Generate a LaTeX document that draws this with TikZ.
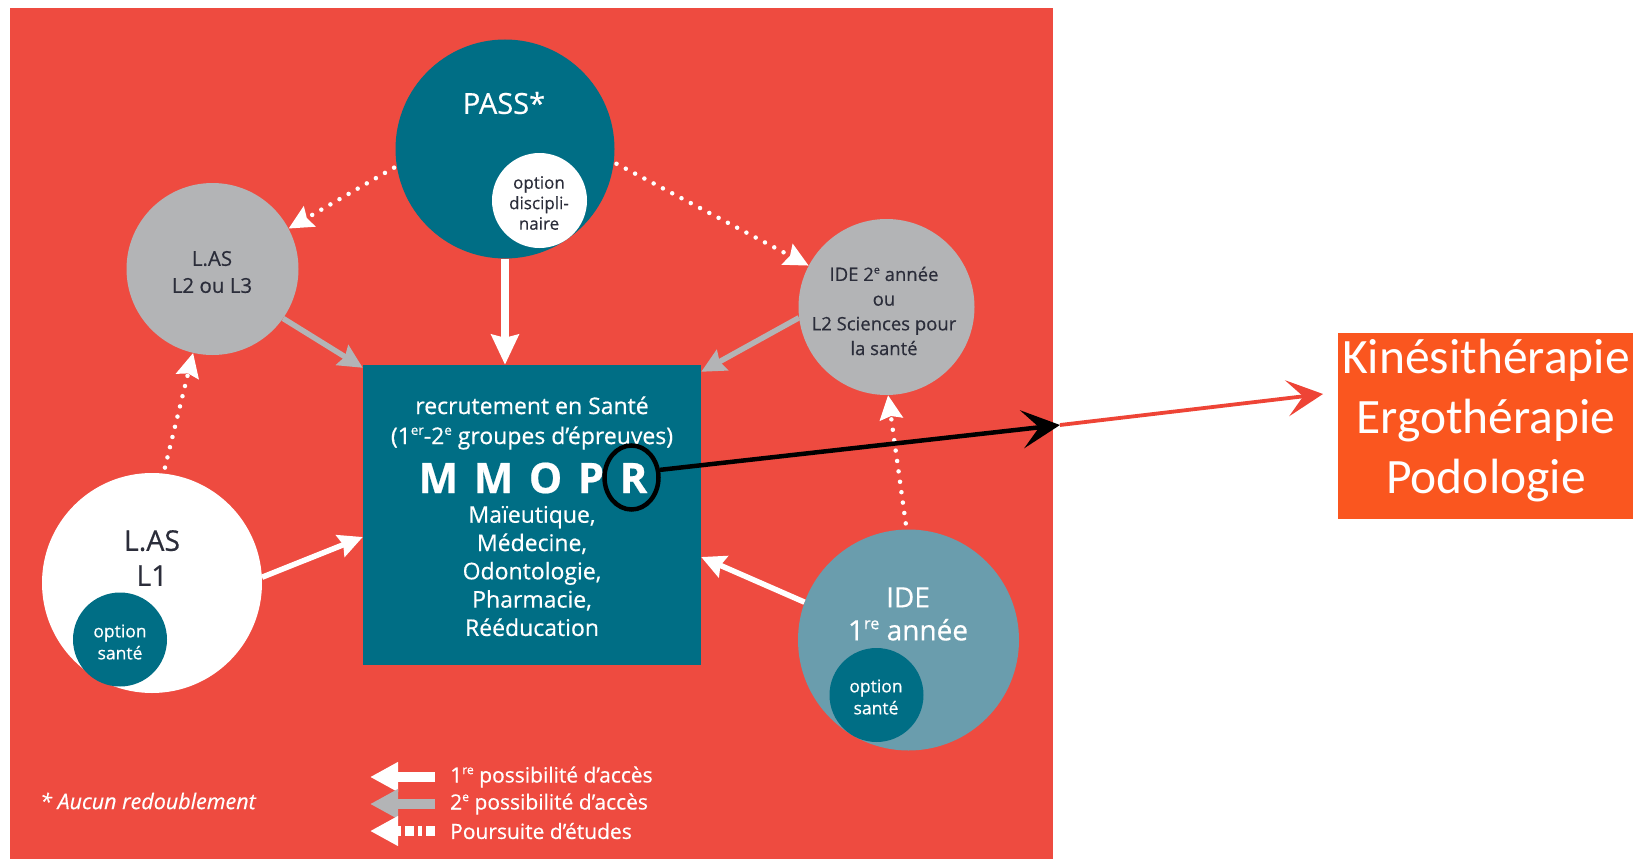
\documentclass[tikz,border=0pt]{standalone}
\usepackage{fontspec}
\setmainfont{Open Sans}[FakeBold=0.5]
\newfontfamily\calib{Carlito}
\usetikzlibrary{arrows.meta,shapes.geometric}
\definecolor{redbg}{HTML}{EE4B40}
\definecolor{tealc}{HTML}{006E85}
\definecolor{grayc}{HTML}{B3B4B6}
\definecolor{lteal}{HTML}{6A9DAD}
\definecolor{orangeb}{HTML}{FA561F}
\definecolor{arrred}{HTML}{EE4436}
\definecolor{darktxt}{HTML}{2B2D3A}
\newcommand{\supr}[1]{\raisebox{0.4em}{\scalebox{0.58}{#1}}}
\tikzset{
  disc/.style={circle, inner sep=0pt, minimum size=#1},
  acc1/.style={draw=white, line width=5.5pt, -{Stealth[length=24pt,width=23pt,inset=3pt]}},
  acc1big/.style={draw=white, line width=8pt, -{Stealth[length=30pt,width=27pt,inset=3pt]}},
  acc2/.style={draw=grayc, line width=5.5pt, -{Stealth[length=24pt,width=23pt,inset=3pt]}},
  pours/.style={draw=white, line width=4.5pt, line cap=round, dash pattern=on 0pt off 10.5pt, -{Stealth[length=24pt,width=23pt,inset=3pt]}},
  legacc/.style={line width=10pt, -{Triangle[length=28pt,width=28pt]}},
  txt/.style={inner sep=0pt, align=center},
}
\begin{document}
\begin{tikzpicture}[x=1pt,y=-1pt]
\useasboundingbox (0,0) rectangle (1633,859);
\fill[white] (0,0) rectangle (1633,859);
\fill[redbg] (10,8) rectangle (1053,859);

% shapes
\node[disc=219pt, fill=tealc] (pass) at (505,149) {};
\node[disc=95pt, fill=white] (optd) at (539.5,200.5) {};
\node[disc=172pt, fill=grayc] (las2) at (212.5,269) {};
\node[disc=176pt, fill=grayc] (ide2) at (886.5,307) {};
\node[disc=220pt, fill=white] (las1) at (152,583) {};
\node[disc=94pt, fill=tealc] (opt1) at (120,639.5) {};
\node[disc=221pt, fill=lteal] (ide1) at (908.5,640) {};
\node[disc=94pt, fill=tealc] (opt2) at (876.5,695) {};
\node[rectangle, fill=tealc, inner sep=0pt, minimum width=338pt, minimum height=300pt] (box) at (532,515) {};
\node[rectangle, fill=orangeb, inner sep=0pt, minimum width=295pt, minimum height=186pt, anchor=north west] (kine) at (1338,333) {};

% texts
\node[txt, text=white, font=\fontsize{29}{34}\selectfont] (passt) at (504,103) {PASS*};
\node[txt, text=darktxt, font=\fontsize{17}{20.5}\selectfont] (optdt) at (539,203) {option\\discipli-\\naire};
\node[txt, text=darktxt, font=\fontsize{20.5}{27}\selectfont] (las2t) at (212,272) {L.AS\\L2 ou L3};
\node[txt, text=darktxt, font=\fontsize{18.5}{24.7}\selectfont] (ide2t) at (884,311) {IDE 2\supr{e} année\\ou\\L2 Sciences pour\\la santé};
\node[txt, text=darktxt, font=\fontsize{28.5}{35}\selectfont] (las1t) at (152,558) {L.AS\\L1};
\node[txt, text=white, font=\fontsize{17.5}{22}\selectfont] (opt1t) at (120,642) {option\\santé};
\node[txt, text=white, font=\fontsize{28}{33}\selectfont] (ide1t) at (908,614) {IDE\\1\supr{re} année};
\node[txt, text=white, font=\fontsize{17.5}{22}\selectfont] (opt2t) at (876,697) {option\\santé};
\node[txt, text=white, font=\fontsize{23}{30}\selectfont] (rec) at (532,423) {recrutement en Santé\\(1\supr{er}-2\supr{e} groupes d’épreuves)};
\node[txt, text=white, font=\fontsize{42}{50}\selectfont\bfseries] (mmopr) at (533,478) {M\hspace{15.5pt}M\hspace{15.5pt}O\hspace{15.5pt}P\hspace{15.5pt}R};
\node[txt, text=white, font=\fontsize{23}{28.3}\selectfont] (spec) at (532,571) {Maïeutique,\\Médecine,\\Odontologie,\\Pharmacie,\\Rééducation};
\node[txt, text=white, font=\calib\fontsize{49.5}{60}\selectfont] (kinet) at (1486,421) {Kinésithérapie\\Ergothérapie\\Podologie};

% legend
\node[txt, anchor=west, text=white, font=\fontsize{21}{22}\selectfont] (leg1) at (450,777) {1\supr{re} possibilité d’accès};
\node[txt, anchor=west, text=white, font=\fontsize{21}{22}\selectfont] (leg2) at (450,804) {2\supr{e} possibilité d’accès};
\node[txt, anchor=west, text=white, font=\fontsize{21}{22}\selectfont] (leg3) at (450,831) {Poursuite d’études};
\node[txt, anchor=west, text=white, font=\fontsize{21.5}{22}\selectfont\itshape] (note) at (40,801) {* Aucun redoublement};
\draw[legacc, draw=white] ([xshift=-15pt]leg1.west) -- ([xshift=-80pt]leg1.west);
\draw[legacc, draw=grayc] ([xshift=-15pt]leg2.west) -- ([xshift=-80pt]leg2.west);
\draw[legacc, draw=white, dash pattern=on 9pt off 4pt on 4pt off 4pt] ([xshift=-15pt]leg3.west) -- ([xshift=-80pt]leg3.west);

% connectors
\draw[acc1big] (pass.south) -- (pass.south |- box.north);
\draw[acc2] (las2.-35) -- ([yshift=-3pt]box.north west);
\draw[acc2] (ide2.187) -- ([yshift=-7pt]box.north east);
\draw[acc1] (las1.3) -- ([yshift=-22pt]box.west);
\draw[acc1] (ide1.160) -- ([yshift=-42pt]box.east);
\draw[pours, shorten <=3pt] (pass.189) -- (las2.28);
\draw[pours, shorten <=3pt] (pass.-7) -- (ide2.152);
\draw[pours, shorten <=6pt] (las1.84) -- (las2.257);
\draw[pours, shorten <=6pt] (ide1.91) -- (ide2.-89);

% highlight
\node[ellipse, draw=black, line width=4.5pt, inner sep=0pt, minimum width=54pt, minimum height=64pt] (rcirc) at (631.5,477.5) {};
\coordinate (blacktip) at (1060,425);
\coordinate (redtip) at (1323,394);
\draw[arrred, line width=3.8pt, -{Stealth[length=36pt,width=36pt,inset=16pt]}] (blacktip) -- (redtip);
\draw[black, line width=4.5pt, -{Stealth[length=38pt,width=38pt,inset=17pt]}] (rcirc.15) -- (blacktip);
\end{tikzpicture}
\end{document}
